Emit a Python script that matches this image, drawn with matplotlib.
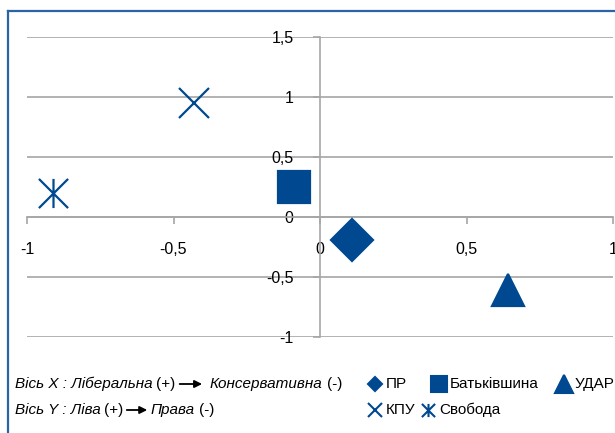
import matplotlib.pyplot as plt
from matplotlib.path import Path
from matplotlib.lines import Line2D
from matplotlib.patches import FancyArrowPatch

plt.rcParams['font.family'] = ['Liberation Sans', 'DejaVu Sans']

# дані
parties = ['ПР', 'Батьківшина', 'УДАР', 'КПУ', 'Свобода']
x_vals = [0.11, -0.09, 0.64, -0.43, -0.91]
y_vals = [-0.19, 0.25, -0.61, 0.95, 0.20]
x_ticks = [-1, -0.5, 0, 0.5, 1]
y_ticks = [-1, -0.5, 0, 0.5, 1, 1.5]

blue = '#004990'
grey = '#a6a6a6'
W, H = 615, 433

# маркер "Ж" (хрестик з вертикальною лінією)
ast = Path([(-1, -1), (1, 1), (-1, 1), (1, -1), (0, -1), (0, 1)],
           [Path.MOVETO, Path.LINETO] * 3)
markers = ['D', 's', '^', 'x', ast]
sizes = [21, 23, 23, 21, 21]
leg_sizes = [6.8, 11.5, 13, 9.5, 9.5]


def px(x, y):
    return x / W, 1 - y / H


def fmt(v):
    return ('%g' % v).replace('.', ',')


fig = plt.figure(figsize=(6.15, 4.33), dpi=100)
ax = fig.add_axes([27 / W, (H - 337) / H, 586 / W, 300 / H])
ax.set_xlim(-1, 1)
ax.set_ylim(-1, 1.5)

for s in ['top', 'right']:
    ax.spines[s].set_visible(False)
for s in ['left', 'bottom']:
    ax.spines[s].set_position(('data', 0))
    ax.spines[s].set_color(grey)
    ax.spines[s].set_linewidth(1.2)

ax.set_xticks(x_ticks)
ax.set_xticklabels([fmt(v) for v in x_ticks])
ax.set_yticks(y_ticks)
ax.set_yticklabels([fmt(v) for v in y_ticks])
ax.tick_params(axis='x', direction='out', length=5, width=1.2, color=grey, pad=13, labelsize=11.5)
ax.tick_params(axis='y', direction='out', length=5, width=1.2, color=grey, pad=14, labelsize=11.5)
ax.yaxis.grid(True, color=grey, lw=1.2)
ax.set_axisbelow(True)

for i in range(len(parties)):
    ax.plot(x_vals[i], y_vals[i], ls='none', marker=markers[i], ms=sizes[i],
            color=blue, mew=1.6, clip_on=False, zorder=3)

# рамка
fig.add_artist(Line2D([8 / W, 8 / W], [0, 1 - 11 / H], transform=fig.transFigure, color='#2a64a6', lw=1.6))
fig.add_artist(Line2D([8 / W, 1], [1 - 11 / H, 1 - 11 / H], transform=fig.transFigure, color='#2a64a6', lw=1.6))

renderer = fig.canvas.get_renderer()
fs = 11
row1, row2 = 384, 410


def put(x, y, t, st='normal'):
    # пише текст і повертає правий край у пікселях
    tx = fig.text(*px(x, y), t, style=st, fontsize=fs, va='center', ha='left')
    return tx.get_window_extent(renderer).x1


def arrow(x, y, length=28):
    fig.add_artist(FancyArrowPatch(px(x, y), px(x + length, y), transform=fig.transFigure,
                                   arrowstyle='-|>', mutation_scale=11, color='black', lw=1.3))
    return x + length


# підписи осей
x = put(15, row1, 'Вісь X : Ліберальна', 'italic')
x = put(x + 3, row1, '(+)')
x = arrow(x + 2, row1)
x = put(x + 5, row1, 'Консервативна', 'italic')
put(x + 4, row1, '(-)')

x = put(15, row2, 'Вісь Y : Ліва', 'italic')
x = put(x + 3, row2, '(+)')
x = arrow(x + 1, row2, 26)
x = put(x + 1, row2, 'Права', 'italic')
put(x + 4, row2, '(-)')

# легенда
leg_pos = [(375, row1), (439, row1), (564, row1), (375, row2), (428, row2)]
for i in range(len(parties)):
    lx, ly = leg_pos[i]
    fig.add_artist(Line2D([lx / W], [1 - ly / H], transform=fig.transFigure, ls='none',
                          marker=markers[i], ms=leg_sizes[i], color=blue, mew=1.5))
    put(lx + 11, ly, parties[i])

fig.savefig('out.png', dpi=100)
